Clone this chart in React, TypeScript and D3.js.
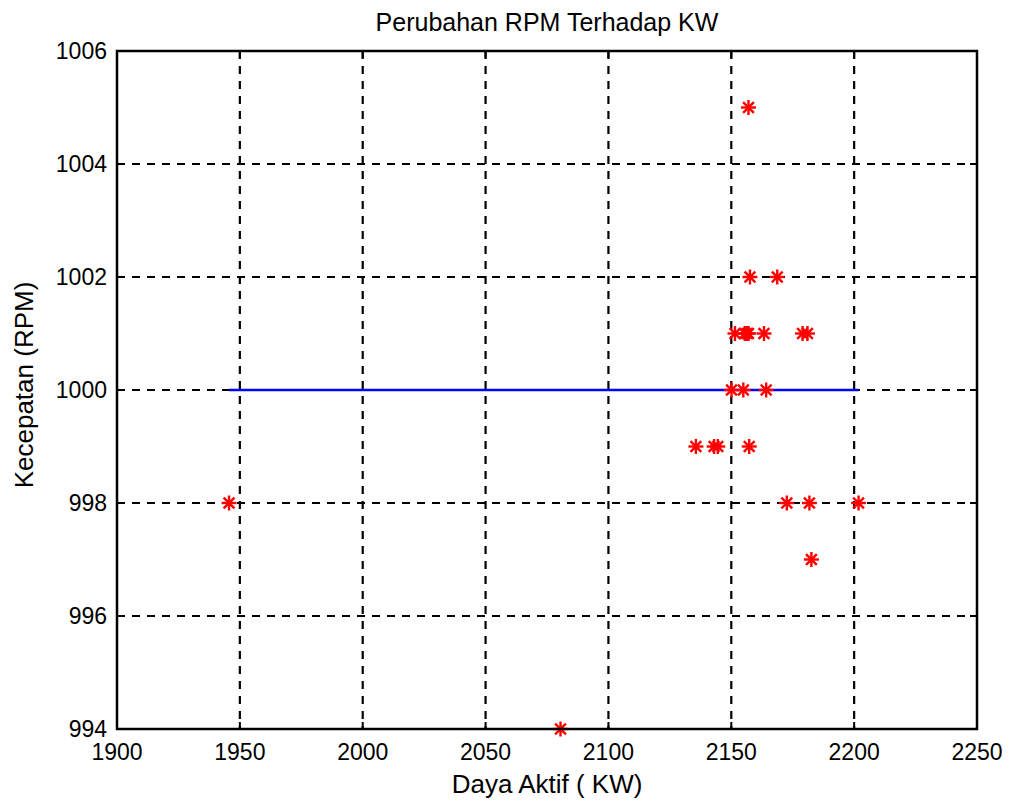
import React from "react";
import * as d3 from "d3";

const xTicks = [1900, 1950, 2000, 2050, 2100, 2150, 2200, 2250];
const yTicks = [994, 996, 998, 1000, 1002, 1004, 1006];

const powerKW = [
  2157, 2157.6, 2168.7,
  2151.5, 2155.5, 2156.5, 2157, 2163.3, 2179, 2181,
  2150.1, 2154.9, 2164.2,
  2135.6, 2143, 2144.5, 2157.3,
  2172.6, 2181.8, 2201.8, 1945.6,
  2182.6,
  2080.5,
];
const speedRPM = [
  1005, 1002, 1002,
  1001, 1001, 1001, 1001, 1001, 1001, 1001,
  1000, 1000, 1000,
  999, 999, 999, 999,
  998, 998, 998, 998,
  997,
  994,
];
const refLineX = [1945.6, 2201.8];
const refLineY = [1000, 1000];

const W = 1015;
const H = 805;
const M = { left: 117, right: 977, top: 51, bottom: 729 };
const FONT = "Arial, 'Liberation Sans', Helvetica, sans-serif";

export default function App() {
  const x = d3.scaleLinear().domain([1900, 2250]).range([M.left, M.right]);
  const y = d3.scaleLinear().domain([994, 1006]).range([M.bottom, M.top]);
  const line = d3
    .line<number>()
    .x((d) => x(d))
    .y((_, i) => y(refLineY[i]));
  const r = 7.5;
  const rd = r * 0.72;
  const tick = 7;

  return (
    <div style={{ position: "absolute", left: 0, top: 0, width: W, height: H, background: "#fff" }}>
      <svg width={W} height={H} style={{ display: "block" }} fontFamily={FONT}>
        <rect x={0} y={0} width={W} height={H} fill="#fff" />
        {/* grid */}
        {xTicks.slice(1, -1).map((t) => (
          <line key={"gx" + t} x1={x(t)} x2={x(t)} y1={M.top} y2={M.bottom}
            stroke="#000" strokeWidth={2.2} strokeDasharray="8,7" />
        ))}
        {yTicks.slice(1, -1).map((t) => (
          <line key={"gy" + t} x1={M.left} x2={M.right} y1={y(t)} y2={y(t)}
            stroke="#000" strokeWidth={2.2} strokeDasharray="8,7" />
        ))}
        {/* ticks */}
        {xTicks.map((t) => (
          <g key={"tx" + t}>
            <line x1={x(t)} x2={x(t)} y1={M.bottom} y2={M.bottom - tick} stroke="#000" strokeWidth={2} />
            <line x1={x(t)} x2={x(t)} y1={M.top} y2={M.top + tick} stroke="#000" strokeWidth={2} />
            <text x={x(t)} y={760} textAnchor="middle" fontSize={23} fill="#000">{t}</text>
          </g>
        ))}
        {yTicks.map((t) => (
          <g key={"ty" + t}>
            <line x1={M.left} x2={M.left + tick} y1={y(t)} y2={y(t)} stroke="#000" strokeWidth={2} />
            <line x1={M.right} x2={M.right - tick} y1={y(t)} y2={y(t)} stroke="#000" strokeWidth={2} />
            <text x={107} y={y(t) + 8} textAnchor="end" fontSize={23} fill="#000">{t}</text>
          </g>
        ))}
        {/* reference line */}
        <path d={line(refLineX) || ""} fill="none" stroke="#0000ff" strokeWidth={2.5} />
        {/* markers */}
        {powerKW.map((p, i) => {
          const cx = x(p);
          const cy = y(speedRPM[i]);
          return (
            <g key={"m" + i} stroke="#ff0000" strokeWidth={2.4}>
              <line x1={cx - r} x2={cx + r} y1={cy} y2={cy} />
              <line x1={cx} x2={cx} y1={cy - r} y2={cy + r} />
              <line x1={cx - rd} x2={cx + rd} y1={cy - rd} y2={cy + rd} />
              <line x1={cx - rd} x2={cx + rd} y1={cy + rd} y2={cy - rd} />
            </g>
          );
        })}
        {/* box */}
        <rect x={M.left} y={M.top} width={M.right - M.left} height={M.bottom - M.top}
          fill="none" stroke="#000" strokeWidth={2.5} />
        {/* labels */}
        <text x={(M.left + M.right) / 2} y={31} textAnchor="middle" fontSize={25} fill="#000">
          Perubahan RPM Terhadap KW
        </text>
        <text x={(M.left + M.right) / 2} y={793} textAnchor="middle" fontSize={26} fill="#000">
          Daya Aktif ( KW)
        </text>
        <text transform={`translate(33, ${(M.top + M.bottom) / 2 - 5}) rotate(-90)`} textAnchor="middle" fontSize={26} fill="#000">
          Kecepatan (RPM)
        </text>
      </svg>
    </div>
  );
}
